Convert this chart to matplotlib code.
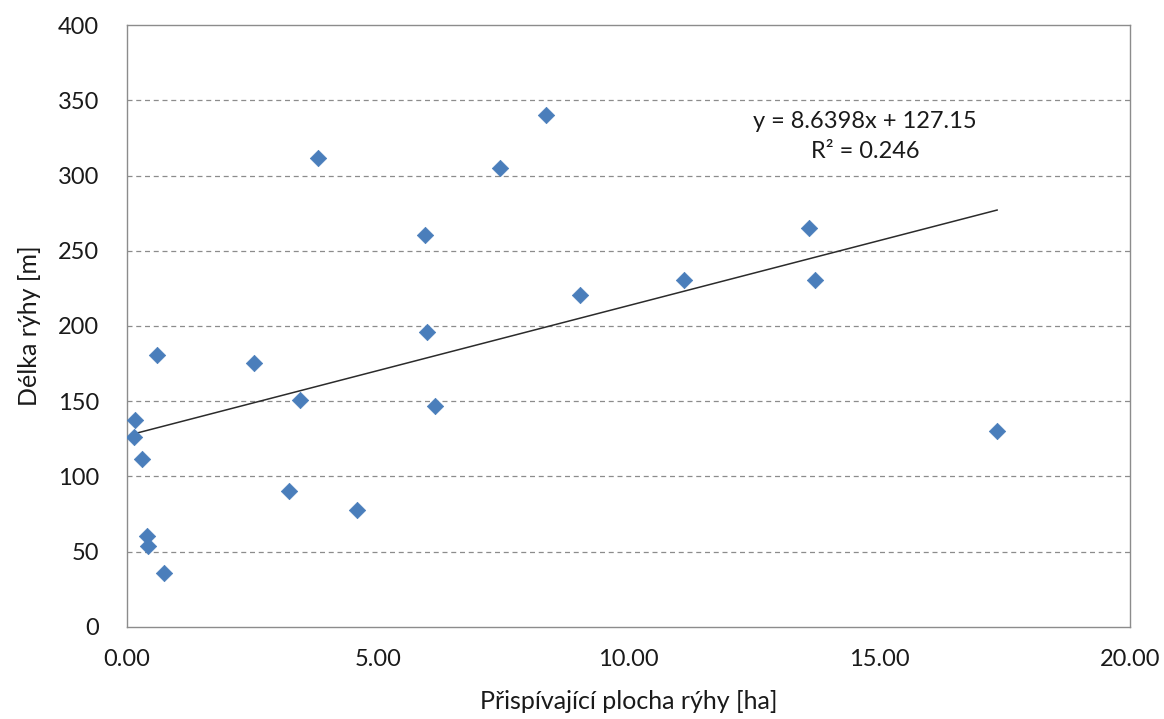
import matplotlib
matplotlib.use("Agg")
import matplotlib.pyplot as plt
import numpy as np

plt.rcParams["font.family"] = ["Lato", "DejaVu Sans"]

# contributing area [ha] and furrow length [m]
area_ha = [0.14, 0.16, 0.30, 0.40, 0.42, 0.60, 0.74, 2.53, 3.23, 3.45, 3.81,
           4.59, 5.94, 5.98, 6.14, 7.44, 8.35, 9.03, 11.11, 13.60, 13.72, 17.35]
length_m = [126.5, 137.5, 111.5, 60.5, 53.5, 180.5, 36.0, 175.5, 90.5, 150.5, 311.5,
            78.0, 260.5, 196.0, 147.0, 305.0, 340.5, 220.5, 230.5, 265.0, 230.5, 130.0]

# trendline given by the chart
slope = 8.6398
intercept = 127.15
r2 = 0.246

x_ticks = [0, 5, 10, 15, 20]
y_ticks = [0, 50, 100, 150, 200, 250, 300, 350, 400]

fig = plt.figure(figsize=(11.64, 7.19), dpi=100)
ax = fig.add_axes([0.1091, 0.128, 0.8617, 0.8372])

for y in y_ticks[1:-1]:
    ax.axhline(y, color="#8c8c8c", linestyle=(0, (4, 3)), linewidth=0.9, zorder=1)

ax.scatter(area_ha, length_m, marker="D", s=70, color="#4a7ebb", edgecolors="#4a7ebb",
           linewidths=0.5, zorder=3)

xs = np.array([min(area_ha), max(area_ha)])
ax.plot(xs, slope * xs + intercept, color="#2b2b2b", linewidth=1.1, zorder=2)

ax.text(14.72, 326, f"y = {slope}x + {intercept}\nR² = {r2}", ha="center", va="center",
        fontsize=17, color="#1a1a1a", linespacing=1.5)

ax.set_xlim(0, 20)
ax.set_ylim(0, 400)
ax.set_xticks(x_ticks)
ax.set_xticklabels([f"{v:.2f}" for v in x_ticks])
ax.set_yticks(y_ticks)
ax.tick_params(length=0, labelsize=17, colors="#1a1a1a")
ax.tick_params(axis="y", pad=20)
ax.tick_params(axis="x", pad=16)
for spine in ax.spines.values():
    spine.set_color("#8c8c8c")
    spine.set_linewidth(1.0)

ax.set_xlabel("Přispívající plocha rýhy [ha]", fontsize=18, color="#1a1a1a", labelpad=14)
ax.set_ylabel("Délka rýhy [m]", fontsize=18, color="#1a1a1a", labelpad=12)

fig.savefig("out.png", dpi=100, facecolor="white")
